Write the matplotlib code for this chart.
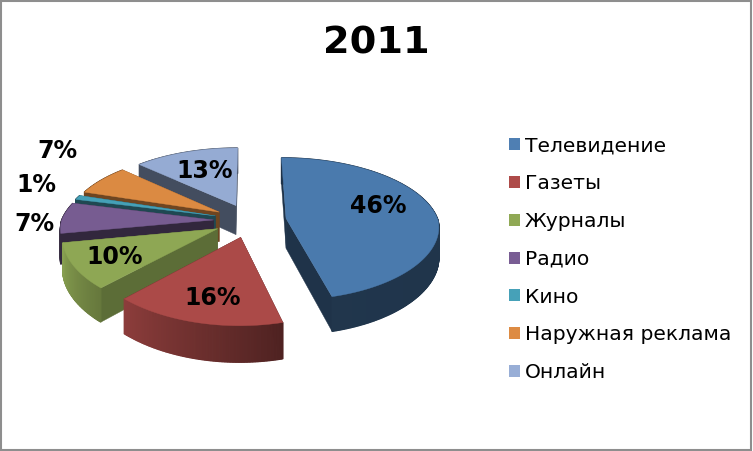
import numpy as np
import matplotlib
matplotlib.use("Agg")
import matplotlib.pyplot as plt
from matplotlib.patches import Patch, Rectangle
from matplotlib.colors import to_rgb

title = "2011"
categories = ["Телевидение", "Газеты", "Журналы", "Радио", "Кино", "Наружная реклама", "Онлайн"]
values = [46, 16, 10, 7, 1, 7, 13]

colors = ["#4a7aad", "#ab4a48", "#8ea754", "#775c91", "#45a0b7", "#db8a42", "#95abd3"]
legend_colors = ["#4f7fb3", "#ae4b49", "#90a955", "#795d94", "#46a1b8", "#dd8b43", "#98aed6"]
wall_shade = [0.42, 0.45, 0.65, 0.42, 0.45, 0.50, 0.45]
curve_start = [0.42, 0.46, 0.72, 0.42, 0.45, 0.50, 0.45]
curve_end = [0.44, 0.82, 0.95, 0.42, 0.45, 0.50, 0.45]
label_xy = [(378, 206), (213, 298), (115, 257), (34, 224), (36, 185), (57, 151), (205, 171)]
draw_order = [6, 5, 4, 3, 0, 2, 1]

# projection parameters (pixels)
OX, OY = 250, 220.5
R, TR, K = 152, 70, 0.146
DEPTH = 30
EXPLODE = 0.24


def project(x, y):
    s = 1 / (1 - K * y)
    sx = np.where(s < 1, s, s ** 0.7)
    return OX + R * x * sx, OY + TR * y * s, s


fig = plt.figure(figsize=(7.53, 4.51), dpi=100, facecolor="white")
ax = fig.add_axes([0, 0, 1, 1])
ax.set_xlim(0, 753)
ax.set_ylim(451, 0)
ax.axis("off")

total = sum(values)
edges = np.concatenate([[0], np.cumsum(values)]) / total * 360
z = 2.0


def shade(c, f):
    return tuple(np.array(to_rgb(c)) * f)


for i in draw_order:
    t0, t1 = edges[i], edges[i + 1]
    mid = np.radians((t0 + t1) / 2)
    ex, ey = EXPLODE * np.sin(mid), -EXPLODE * np.cos(mid)
    th = np.radians(np.linspace(t0, t1, max(8, int(t1 - t0) * 2)))
    ux = ex + np.sin(th)
    uy = ey - np.cos(th)
    ax_, ay_, as_ = project(ex, ey)
    px, py, ps = project(ux, uy)
    wall = shade(colors[i], wall_shade[i])
    # radial walls
    for ox_, oy_, os_ in [(px[0], py[0], ps[0]), (px[-1], py[-1], ps[-1])]:
        ax.fill([ax_, ox_, ox_, ax_], [ay_, oy_, oy_ + DEPTH * os_, ay_ + DEPTH * as_],
                color=wall, lw=0.3, zorder=z)
    z += 0.01
    # outer curved wall with shading along the arc
    for j in range(len(th) - 1):
        f = curve_start[i] + (curve_end[i] - curve_start[i]) * j / (len(th) - 2)
        c = shade(colors[i], f)
        ax.fill([px[j], px[j + 1], px[j + 1], px[j]],
                [py[j], py[j + 1], py[j + 1] + DEPTH * ps[j + 1], py[j] + DEPTH * ps[j]],
                color=c, lw=0.9, zorder=z)
    z += 0.01
    # top face
    ax.fill(np.r_[ax_, px], np.r_[ay_, py], color=colors[i], lw=0.3, zorder=z)
    z += 0.01

for v, (lx, ly) in zip(values, label_xy):
    ax.text(lx, ly, f"{v}%", ha="center", va="center", fontsize=17,
            fontweight="bold", color="black", family="DejaVu Sans", zorder=50)

ax.text(376, 43, title, ha="center", va="center", fontsize=27.5, fontweight="bold",
        color="black", family="DejaVu Sans")

handles = [Patch(facecolor=c, edgecolor="none") for c in legend_colors]
ax.legend(handles, categories, loc="upper left", bbox_to_anchor=(509 / 753, 1 - 136.5 / 451),
          frameon=False, labelspacing=0.925, handlelength=0.54, handleheight=0.54,
          handletextpad=0.25, borderpad=0, borderaxespad=0,
          prop={"family": "DejaVu Sans", "size": 14.6})

# outer frame
ax.add_patch(Rectangle((1.5, 1), 749.5, 448.5, facecolor="none", edgecolor="#8e8e8e", lw=1.5, zorder=60))

fig.savefig("out.png", dpi=100)
